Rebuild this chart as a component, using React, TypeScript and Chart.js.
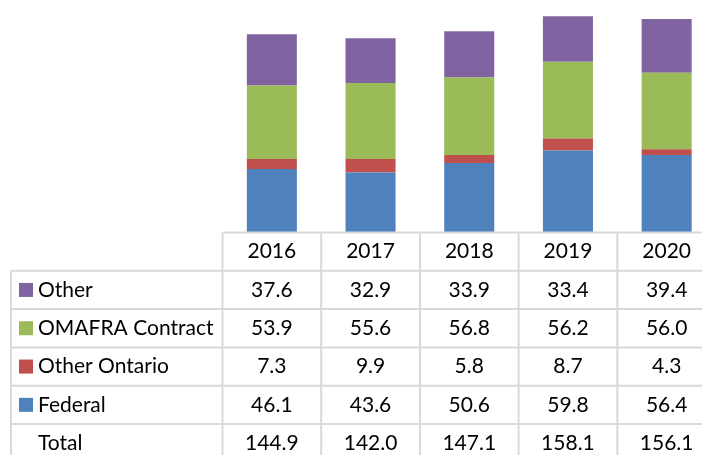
import React, { useEffect, useRef } from "react";
import { Chart, registerables } from "chart.js";

Chart.register(...registerables);

const categories = ["2016", "2017", "2018", "2019", "2020"];
const federal = [46.1, 43.6, 50.6, 59.8, 56.4];
const otherOntario = [7.3, 9.9, 5.8, 8.7, 4.3];
const omafraContract = [53.9, 55.6, 56.8, 56.2, 56.0];
const other = [37.6, 32.9, 33.9, 33.4, 39.4];
const totals = [144.9, 142.0, 147.1, 158.1, 156.1];

const seriesNames = ["Federal", "Other Ontario", "OMAFRA Contract", "Other"];
const seriesColors = ["#4f81bd", "#c0504d", "#9bbb59", "#8064a2"];

const FONT = "Lato, 'Open Sans', sans-serif";

const tablePlugin = {
  id: "dataTable",
  afterDraw(chart: any) {
    const { ctx, chartArea } = chart;
    const x = chart.scales.x;
    const n = categories.length;
    const colW = x.width / n;
    const top = chartArea.bottom + 0.5;
    const rowH = 38.3;
    const leftEdge = 11;
    const right = x.left + colW * n;
    const bottom = 470;

    ctx.save();
    ctx.strokeStyle = "#d9d9d9";
    ctx.lineWidth = 2;
    ctx.beginPath();
    ctx.moveTo(x.left, top);
    ctx.lineTo(right, top);
    for (let k = 1; k <= 5; k++) {
      const yy = top + k * rowH;
      ctx.moveTo(leftEdge, yy);
      ctx.lineTo(right, yy);
    }
    ctx.moveTo(leftEdge, top + rowH);
    ctx.lineTo(leftEdge, bottom);
    for (let i = 0; i <= n; i++) {
      const xx = x.left + i * colW;
      ctx.moveTo(xx, top);
      ctx.lineTo(xx, bottom);
    }
    ctx.stroke();

    ctx.fillStyle = "#000000";
    ctx.font = `21px ${FONT}`;
    ctx.textBaseline = "middle";
    ctx.textAlign = "center";
    categories.forEach((c, i) => {
      ctx.fillText(c, x.getPixelForValue(i), top + rowH / 2);
    });

    const rows: { name: string; color: string | null; values: number[] }[] = [];
    const dsArr = chart.data.datasets;
    for (let d = dsArr.length - 1; d >= 0; d--) {
      rows.push({ name: dsArr[d].label, color: dsArr[d].backgroundColor, values: dsArr[d].data });
    }
    rows.push({ name: "Total", color: null, values: totals });

    rows.forEach((r, k) => {
      const cy = top + (k + 1) * rowH + rowH / 2;
      if (r.color) {
        ctx.fillStyle = r.color;
        ctx.fillRect(19, cy - 7, 14, 14);
      }
      ctx.fillStyle = "#000000";
      ctx.textAlign = "left";
      ctx.fillText(r.name, 38, cy);
      ctx.textAlign = "center";
      r.values.forEach((v, i) => {
        ctx.fillText(v.toFixed(1), x.getPixelForValue(i), cy);
      });
    });
    ctx.restore();
  },
};

export default function App() {
  const ref = useRef<HTMLCanvasElement | null>(null);
  useEffect(() => {
    if (!ref.current) return;
    const chart = new Chart(ref.current, {
      type: "bar",
      data: {
        labels: categories,
        datasets: [federal, otherOntario, omafraContract, other].map((d, i) => ({
          label: seriesNames[i],
          data: d,
          backgroundColor: seriesColors[i],
          borderWidth: 0,
          categoryPercentage: 1,
          barPercentage: 0.507,
        })),
      },
      options: {
        responsive: false,
        animation: false,
        layout: { padding: { left: 222.5, right: 0, top: 0, bottom: 223 } },
        plugins: { legend: { display: false }, tooltip: { enabled: false } },
        scales: {
          x: { stacked: true, display: false, offset: true },
          y: { stacked: true, display: false, min: 0, max: 170 },
        },
      },
      plugins: [tablePlugin],
    });
    return () => chart.destroy();
  }, []);
  return (
    <div style={{ position: "fixed", left: 0, top: 0, width: 702, height: 455, overflow: "hidden", background: "#fff" }}>
      <canvas ref={ref} width={716} height={455} style={{ display: "block" }} />
    </div>
  );
}
